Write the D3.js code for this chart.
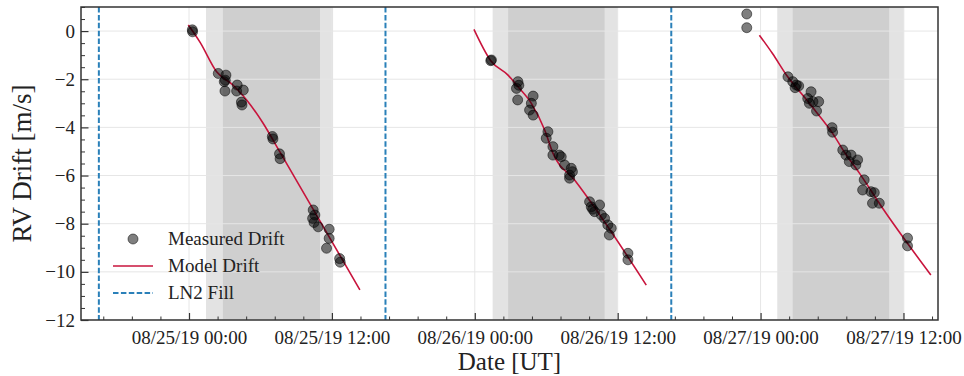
<!DOCTYPE html>
<html>
<head>
<meta charset="utf-8">
<script src="https://cdn.jsdelivr.net/npm/d3@7"></script>
<style>
  html, body { margin: 0; padding: 0; background: #fff; }
  svg { display: block; font-family: "Liberation Serif", "DejaVu Serif", serif; }
</style>
</head>
<body>
<svg id="chart" width="964" height="376"></svg>
<script>
// ---------- DATA (times are hours since 2019-08-25 00:00 UT) ----------
const baseTimeUTC = Date.UTC(2019, 7, 25, 0, 0);
const xDomainHours = [-9.07, 62.9];
const yDomain = [-12, 1];
const yMajorTicks = [-12, -10, -8, -6, -4, -2, 0];
const xMajorTickHours = [0, 12, 24, 36, 48, 60];

// Measured drift points
const measHours = [
  0.28, 0.30,
  2.46, 3.10, 2.96, 3.05, 3.02, 4.05, 4.00, 4.56, 4.45, 4.40,
  7.00, 7.05, 7.60, 7.65,
  10.43, 10.57, 10.38, 10.50, 10.85, 11.77, 11.77, 11.55, 12.65, 12.70,
  25.34, 25.40,
  27.62, 27.50, 27.60, 28.90, 28.75, 28.60, 28.90, 27.70,
  30.14, 30.00, 30.56, 31.10, 30.56, 31.26, 31.54, 32.10, 31.96, 32.20, 31.96,
  33.64, 33.78, 34.06, 34.48, 34.63, 34.90, 35.17, 35.46, 35.30, 33.90,
  36.86, 36.86,
  46.84, 46.84,
  50.30, 50.70, 51.00, 51.20, 50.90, 52.24, 51.96, 52.40, 52.88, 52.10, 52.70, 54.00, 54.05,
  54.90, 55.17, 55.60, 55.45, 56.15, 56.00, 56.70, 56.57, 57.27, 57.55, 57.40, 57.97,
  60.34, 60.34
];
const measDrift = [
  0.05, -0.03,
  -1.76, -1.83, -2.10, -2.04, -2.49, -2.24, -2.49, -2.45, -3.07, -2.95,
  -4.38, -4.48, -5.10, -5.30,
  -7.43, -7.64, -7.78, -7.95, -8.13, -8.23, -8.61, -9.02, -9.45, -9.60,
  -1.23, -1.20,
  -2.10, -2.38, -2.86, -2.70, -3.00, -3.28, -3.49, -2.25,
  -4.18, -4.45, -4.80, -5.15, -5.15, -5.22, -5.56, -5.70, -5.98, -5.84, -6.11,
  -7.09, -7.30, -7.50, -7.22, -7.64, -7.78, -8.05, -8.19, -8.47, -7.40,
  -9.23, -9.50,
  0.71, 0.14,
  -1.90, -2.10, -2.24, -2.28, -2.35, -2.52, -2.80, -2.93, -2.93, -3.00, -3.32, -4.01, -4.20,
  -4.94, -5.15, -5.15, -5.42, -5.35, -5.56, -6.18, -6.60, -6.67, -6.71, -7.15, -7.15,
  -8.60, -8.92
];

// Model drift, one curve per night
const modelNight1Hours = [-0.06, 0.92, 2.32, 3.69, 4.84, 6.21, 7.63, 10.99, 14.35];
const modelNight1Drift = [0.25, -0.46, -1.69, -2.24, -2.86, -3.82, -5.02, -7.88, -10.75];
const modelNight2Hours = [23.93, 25.34, 26.79, 27.63, 28.75, 29.87, 30.56, 32.38, 38.40];
const modelNight2Drift = [0.07, -1.23, -1.83, -2.31, -3.00, -4.11, -5.07, -6.19, -10.55];
const modelNight3Hours = [47.90, 49.00, 50.28, 51.54, 52.66, 54.05, 55.03, 56.30, 58.25, 62.30];
const modelNight3Drift = [-0.17, -0.93, -1.90, -2.66, -3.35, -4.25, -5.02, -5.90, -7.36, -10.13];

// LN2 fill times
const ln2FillHours = [-7.57, 16.50, 40.50];

// Night shading: twilight (outer) and dark night (inner) intervals
const twilightStart = [1.43, 25.50, 49.40];
const twilightEnd   = [12.10, 36.00, 60.07];
const nightStart    = [2.85, 26.80, 50.70];
const nightEnd      = [11.00, 34.90, 58.80];

// ---------- CHART ----------
const toDate = h => new Date(baseTimeUTC + h * 3600e3);
const W = 964, H = 376;
const margin = { left: 81, right: 26, top: 7, bottom: 56 };
const iw = W - margin.left - margin.right;
const ih = H - margin.top - margin.bottom;

const svg = d3.select("#chart");
const g = svg.append("g").attr("transform", `translate(${margin.left},${margin.top})`);

const x = d3.scaleUtc().domain(xDomainHours.map(toDate)).range([0, iw]);
const y = d3.scaleLinear().domain(yDomain).range([ih, 0]);

svg.append("defs").append("clipPath").attr("id", "clip")
  .append("rect").attr("width", iw).attr("height", ih);

const plot = g.append("g").attr("clip-path", "url(#clip)");

// shading
const twi = twilightStart.map((s, i) => [s, twilightEnd[i]]);
const ngt = nightStart.map((s, i) => [s, nightEnd[i]]);
plot.selectAll("rect.twi").data(twi).join("rect").attr("class", "twi")
  .attr("x", d => x(toDate(d[0]))).attr("width", d => x(toDate(d[1])) - x(toDate(d[0])))
  .attr("y", 0).attr("height", ih).attr("fill", "#e3e3e3");
plot.selectAll("rect.ngt").data(ngt).join("rect").attr("class", "ngt")
  .attr("x", d => x(toDate(d[0]))).attr("width", d => x(toDate(d[1])) - x(toDate(d[0])))
  .attr("y", 0).attr("height", ih).attr("fill", "#cfcfcf");

// grid
plot.selectAll("line.gy").data(yMajorTicks).join("line").attr("class", "gy")
  .attr("x1", 0).attr("x2", iw).attr("y1", d => y(d)).attr("y2", d => y(d))
  .attr("stroke", "#e6e6e6").attr("stroke-width", 1);
plot.selectAll("line.gx").data(xMajorTickHours).join("line").attr("class", "gx")
  .attr("y1", 0).attr("y2", ih).attr("x1", d => x(toDate(d))).attr("x2", d => x(toDate(d)))
  .attr("stroke", "#e6e6e6").attr("stroke-width", 1);

// LN2 lines
const blue = "#2a80b9";
plot.selectAll("line.ln2").data(ln2FillHours).join("line").attr("class", "ln2")
  .attr("x1", d => x(toDate(d))).attr("x2", d => x(toDate(d)))
  .attr("y1", 0).attr("y2", ih)
  .attr("stroke", blue).attr("stroke-width", 2).attr("stroke-dasharray", "5.5,2.4");

// model lines
const red = "#c8143c";
const line = d3.line().x(d => x(toDate(d[0]))).y(d => y(d[1])).curve(d3.curveMonotoneX);
const models = [
  d3.zip(modelNight1Hours, modelNight1Drift),
  d3.zip(modelNight2Hours, modelNight2Drift),
  d3.zip(modelNight3Hours, modelNight3Drift)
];
plot.selectAll("path.model").data(models).join("path").attr("class", "model")
  .attr("d", line).attr("fill", "none").attr("stroke", red).attr("stroke-width", 1.6);

// points
const pts = d3.zip(measHours, measDrift);
plot.selectAll("circle.pt").data(pts).join("circle").attr("class", "pt")
  .attr("cx", d => x(toDate(d[0]))).attr("cy", d => y(d[1])).attr("r", 5)
  .attr("fill", "#000").attr("fill-opacity", 0.5)
  .attr("stroke", "#000").attr("stroke-opacity", 0.5).attr("stroke-width", 1);

// axes frame
const axisColor = "#333";
g.append("rect").attr("width", iw).attr("height", ih).attr("fill", "none")
  .attr("stroke", axisColor).attr("stroke-width", 1.5);

// x axis (ticks inward)
const xMinorHours = d3.range(-7.2, 63, 2.4).filter(h => Math.abs(h / 12 - Math.round(h / 12)) > 1e-6);
const xAxis = d3.axisBottom(x).tickValues(xMajorTickHours.map(toDate))
  .tickFormat(d3.utcFormat("%m/%d/%y %H:%M")).tickSizeInner(-7).tickSizeOuter(0).tickPadding(11);
const gx = g.append("g").attr("transform", `translate(0,${ih})`).call(xAxis);
gx.select(".domain").remove();
gx.selectAll("line").attr("stroke", axisColor).attr("stroke-width", 1.2);
gx.selectAll("text").attr("font-size", 19).attr("fill", "#222").attr("font-family", "Liberation Serif");
const gxm = g.append("g").attr("transform", `translate(0,${ih})`)
  .call(d3.axisBottom(x).tickValues(xMinorHours.map(toDate)).tickSize(-3.5).tickFormat(""));
gxm.select(".domain").remove();
gxm.selectAll("line").attr("stroke", axisColor).attr("stroke-width", 1);

// y axis
const yAxis = d3.axisLeft(y).tickValues(yMajorTicks).tickFormat(d => d < 0 ? "\u2212" + Math.abs(d) : d)
  .tickSizeInner(-7.5).tickSizeOuter(0).tickPadding(6);
const gy = g.append("g").call(yAxis);
gy.select(".domain").remove();
gy.selectAll("line").attr("stroke", axisColor).attr("stroke-width", 1.2);
gy.selectAll("text").attr("font-size", 19).attr("fill", "#222").attr("font-family", "Liberation Serif");
const yMinor = d3.range(-12, 1.01, 0.5).filter(v => v % 2 !== 0);
const gym = g.append("g").call(d3.axisLeft(y).tickValues(yMinor).tickSize(-4).tickFormat(""));
gym.select(".domain").remove();
gym.selectAll("line").attr("stroke", axisColor).attr("stroke-width", 1);

// axis titles
svg.append("text").attr("x", margin.left + iw / 2).attr("y", 370).attr("text-anchor", "middle")
  .attr("font-size", 25).attr("fill", "#222").text("Date [UT]");
svg.append("text").attr("transform", `translate(31,${margin.top + ih / 2}) rotate(-90)`)
  .attr("text-anchor", "middle").attr("font-size", 27).attr("fill", "#222").text("RV Drift [m/s]");

// legend
const lg = svg.append("g");
const legendItems = ["Measured Drift", "Model Drift", "LN2 Fill"];
const ly = [239, 266, 293];
lg.append("circle").attr("cx", 133).attr("cy", ly[0]).attr("r", 5)
  .attr("fill", "#000").attr("fill-opacity", 0.5).attr("stroke", "#000").attr("stroke-opacity", 0.5);
lg.append("line").attr("x1", 113).attr("x2", 153).attr("y1", ly[1]).attr("y2", ly[1])
  .attr("stroke", red).attr("stroke-width", 1.6);
lg.append("line").attr("x1", 113).attr("x2", 153).attr("y1", ly[2]).attr("y2", ly[2])
  .attr("stroke", blue).attr("stroke-width", 2).attr("stroke-dasharray", "5.5,2.4");
lg.selectAll("text").data(legendItems).join("text")
  .attr("x", 168).attr("y", (d, i) => ly[i]).attr("dy", "0.33em")
  .attr("font-size", 19).attr("fill", "#222").text(d => d);
</script>
</body>
</html>
